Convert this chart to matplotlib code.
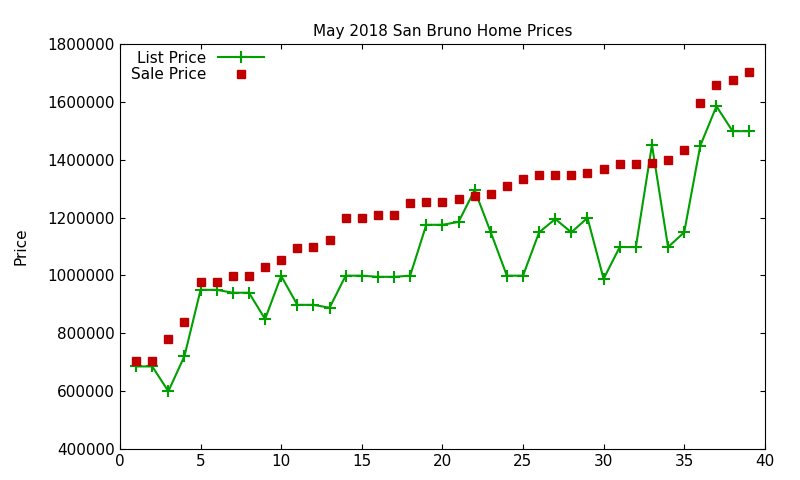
import matplotlib
matplotlib.use("Agg")
import matplotlib.pyplot as plt

# May 2018 San Bruno sales, one entry per home
homes = list(range(1, 40))
list_price = [685000, 685000, 599000, 721000, 950000, 950000, 940000, 940000, 849000, 998000,
              898000, 898000, 888000, 999000, 999000, 995000, 995000, 999000, 1175000, 1175000,
              1185000, 1295000, 1149000, 999000, 999000, 1149000, 1195000, 1149000, 1199000, 988000,
              1098000, 1098000, 1451000, 1098000, 1149000, 1449000, 1585000, 1499000, 1499000]
sale_price = [704000, 704000, 780000, 839000, 977000, 977000, 998000, 998000, 1029000, 1053000,
              1095000, 1098000, 1122000, 1199000, 1199000, 1209000, 1209000, 1250000, 1254000, 1254000,
              1264000, 1275000, 1281000, 1309000, 1333000, 1347000, 1347000, 1347000, 1354000, 1368000,
              1385000, 1385000, 1388000, 1399000, 1433000, 1596000, 1658000, 1675000, 1703000]

fig = plt.figure(figsize=(8, 4.8), dpi=100)
ax = fig.add_axes([0.15, 0.065, 0.806, 0.843])

ax.plot(homes, list_price, '-+', color='#00a000', lw=1.5, ms=8, mew=1.5, label='List Price')
ax.plot(homes, sale_price, 's', color='#c00000', ms=6, lw=0, label='Sale Price')

ax.set_xlim(0, 40)
ax.set_ylim(400000, 1800000)
ax.set_xticks(range(0, 41, 5))
ax.set_yticks(range(400000, 1800001, 200000))
ax.ticklabel_format(style='plain', axis='y')
ax.tick_params(direction='in', top=True, right=True, labelsize=11)
ax.set_ylabel('Price', fontsize=11, labelpad=14)
ax.set_title('May 2018 San Bruno Home Prices', fontsize=11)
ax.legend(loc='upper left', bbox_to_anchor=(0.0, 1.01), frameon=False, markerfirst=False,
          fontsize=11, handlelength=3, borderaxespad=0.3, labelspacing=0.1)

fig.savefig('out.png')
